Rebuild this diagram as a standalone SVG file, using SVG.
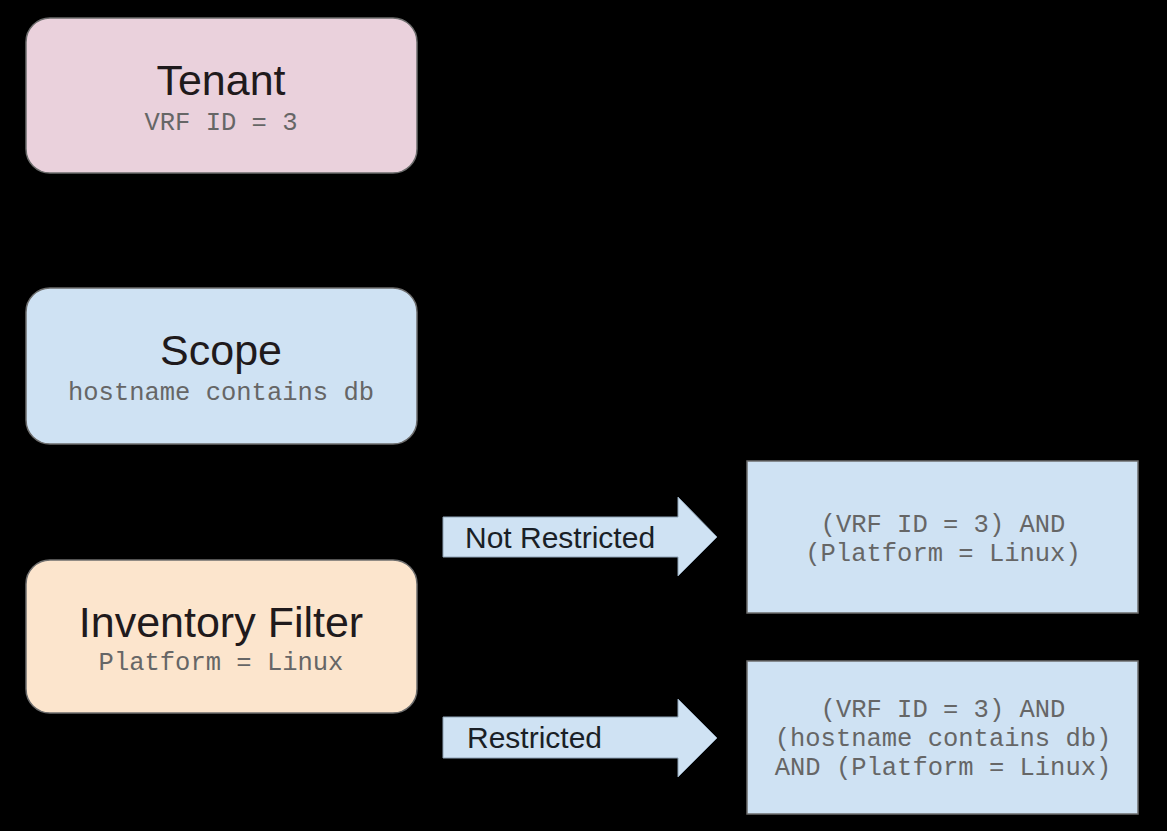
<svg xmlns="http://www.w3.org/2000/svg" width="1167" height="831" viewBox="0 0 1167 831">
  <style>
    .box { stroke: #6d6d6d; stroke-width: 1.5; }
    .title { font-family: "Liberation Sans", Arial, sans-serif; font-size: 43px; fill: #1f1a1c; text-anchor: middle; }
    .mono { font-family: "Liberation Mono", "Courier New", monospace; font-size: 25.5px; fill: #666666; text-anchor: middle; }
    .lbl { font-family: "Liberation Sans", Arial, sans-serif; font-size: 30px; fill: #1a1f26; }
    .arrow { fill: #cfe2f3; stroke: #8fa3b6; stroke-width: 1; }
  </style>
  <rect x="0" y="0" width="1167" height="831" fill="#000000"/>

  <g id="tenant">
    <rect class="box" x="26" y="18" width="391" height="155" rx="24" ry="24" fill="#ead1dc"/>
    <text class="title" x="221" y="95">Tenant</text>
    <text class="mono" x="221" y="130">VRF ID = 3</text>
  </g>

  <g id="scope">
    <rect class="box" x="26" y="288" width="391" height="156" rx="24" ry="24" fill="#cfe2f3"/>
    <text class="title" x="221" y="365">Scope</text>
    <text class="mono" x="221" y="400">hostname contains db</text>
  </g>

  <g id="inventory-filter">
    <rect class="box" x="26" y="560" width="391" height="153" rx="24" ry="24" fill="#fce5cd"/>
    <text class="title" x="221" y="637">Inventory Filter</text>
    <text class="mono" x="221" y="670">Platform = Linux</text>
  </g>

  <g id="not-restricted-result">
    <rect class="box" x="747" y="461" width="391" height="152" fill="#cfe2f3"/>
    <text class="mono" x="943" y="532">(VRF ID = 3) AND</text>
    <text class="mono" x="943" y="561">(Platform = Linux)</text>
  </g>

  <g id="restricted-result">
    <rect class="box" x="747" y="661" width="391" height="153" fill="#cfe2f3"/>
    <text class="mono" x="943" y="717">(VRF ID = 3) AND</text>
    <text class="mono" x="943" y="746">(hostname contains db)</text>
    <text class="mono" x="943" y="775">AND (Platform = Linux)</text>
  </g>

  <g id="connectors">
    <g id="arrow-not-restricted">
      <polygon class="arrow" points="443,517 678,517 678,497 717,537 678,576 678,557 443,557"/>
      <text class="lbl" x="465" y="548">Not Restricted</text>
    </g>
    <g id="arrow-restricted">
      <polygon class="arrow" points="443,717 678,717 678,699 717,738 678,777 678,758 443,758"/>
      <text class="lbl" x="467" y="748">Restricted</text>
    </g>
  </g>
</svg>
